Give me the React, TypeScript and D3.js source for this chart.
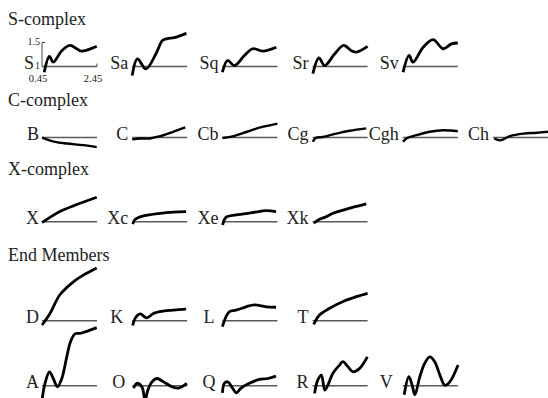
import React from "react";
import * as d3 from "d3";

// Reflectance spectra (wavelength in µm, reflectance normalised so the reference line sits at 1)
const S: [number, number][] = [[0.53, 0.88], [0.72, 1.21], [0.86, 1.09], [1.17, 1.33], [1.47, 1.44], [1.71, 1.37], [1.89, 1.32], [2.13, 1.35], [2.44, 1.42]];
const Sa: [number, number][] = [[0.45, 0.81], [0.64, 1.16], [0.95, 0.95], [1.31, 1.26], [1.55, 1.54], [1.73, 1.58], [1.98, 1.6], [2.42, 1.69]];
const Sq: [number, number][] = [[0.45, 0.88], [0.64, 1.125], [0.89, 1.02], [1.25, 1.23], [1.55, 1.37], [1.92, 1.32], [2.41, 1.4]];
const Sr: [number, number][] = [[0.46, 0.85], [0.68, 1.18], [0.89, 1.02], [1.25, 1.26], [1.58, 1.44], [1.86, 1.33], [2.04, 1.3], [2.45, 1.42]];
const Sv: [number, number][] = [[0.46, 0.88], [0.68, 1.23], [0.82, 1.09], [1.19, 1.4], [1.55, 1.56], [1.92, 1.37], [2.22, 1.47], [2.45, 1.49]];

const B: [number, number][] = [[0.45, 1.0], [0.62, 0.96], [0.92, 0.91], [1.35, 0.875], [1.95, 0.84], [2.44, 0.8]];
const C: [number, number][] = [[0.45, 0.96], [0.74, 0.98], [1.1, 0.98], [1.47, 1.03], [1.95, 1.12], [2.38, 1.21]];
const Cb: [number, number][] = [[0.45, 0.99], [0.86, 1.03], [1.35, 1.12], [1.83, 1.21], [2.45, 1.29]];
const Cg: [number, number][] = [[0.46, 0.91], [0.56, 0.99], [0.82, 1.01], [1.31, 1.08], [1.8, 1.14], [2.4, 1.19]];
const Cgh: [number, number][] = [[0.46, 0.91], [0.58, 0.98], [0.95, 1.05], [1.43, 1.12], [1.92, 1.15], [2.45, 1.13]];
const Ch: [number, number][] = [[0.5, 0.98], [0.71, 0.94], [1.07, 1.03], [1.56, 1.08], [2.05, 1.1], [2.45, 1.12]];

const X: [number, number][] = [[0.45, 0.98], [0.74, 1.09], [1.1, 1.21], [1.59, 1.33], [2.44, 1.51]];
const Xc: [number, number][] = [[0.47, 0.95], [0.56, 1.05], [0.86, 1.12], [1.47, 1.175], [1.95, 1.2], [2.41, 1.21]];
const Xe: [number, number][] = [[0.46, 0.93], [0.58, 1.09], [0.95, 1.14], [1.55, 1.19], [2.04, 1.23], [2.4, 1.21]];
const Xk: [number, number][] = [[0.49, 0.97], [0.7, 1.05], [0.89, 1.09], [1.19, 1.175], [1.68, 1.26], [2.4, 1.37]];

const D: [number, number][] = [[0.45, 0.91], [0.74, 1.15], [1.1, 1.54], [1.59, 1.81], [1.95, 1.95], [2.44, 2.1]];
const K: [number, number][] = [[0.47, 0.9], [0.56, 1.05], [0.74, 1.14], [0.98, 1.06], [1.22, 1.15], [1.58, 1.2], [1.95, 1.22], [2.41, 1.24]];
const L: [number, number][] = [[0.45, 0.875], [0.58, 1.08], [0.71, 1.19], [0.95, 1.22], [1.31, 1.29], [1.61, 1.33], [2.04, 1.29], [2.4, 1.28]];
const T: [number, number][] = [[0.49, 0.925], [0.7, 1.12], [1.07, 1.26], [1.56, 1.4], [2.04, 1.5], [2.45, 1.57]];

const A: [number, number][] = [[0.45, 0.7], [0.56, 1.05], [0.72, 1.29], [0.86, 1.15], [1.01, 0.98], [1.17, 1.15], [1.35, 1.6], [1.49, 1.92], [1.65, 2.08], [1.83, 2.09], [2.01, 2.12], [2.44, 2.21]];
const O: [number, number][] = [[0.5, 0.95], [0.62, 1.05], [0.8, 0.98], [0.92, 0.7], [1.02, 0.91], [1.17, 1.08], [1.35, 1.15], [1.59, 1.08], [1.89, 0.98], [2.13, 0.95], [2.44, 1.05]];
const Q: [number, number][] = [[0.45, 0.85], [0.52, 1.05], [0.64, 1.08], [0.82, 0.95], [0.95, 0.85], [1.13, 0.95], [1.43, 1.05], [1.79, 1.13], [2.1, 1.15], [2.4, 1.2]];
const R: [number, number][] = [[0.52, 0.84], [0.64, 1.12], [0.77, 1.22], [0.89, 0.91], [0.98, 0.98], [1.19, 1.26], [1.43, 1.43], [1.55, 1.5], [1.73, 1.4], [1.92, 1.29], [2.16, 1.36], [2.44, 1.6]];
const V: [number, number][] = [[0.5, 0.81], [0.67, 1.19], [0.79, 1.01], [0.89, 0.81], [1.07, 1.19], [1.25, 1.47], [1.43, 1.6], [1.61, 1.5], [1.8, 1.22], [1.98, 1.01], [2.16, 1.08], [2.46, 1.43]];

// Group titles and the classes shown under each
const groupTitles = ["S-complex", "C-complex", "X-complex", "End Members"];
const rowClasses = [
  ["S", "Sa", "Sq", "Sr", "Sv"],
  ["B", "C", "Cb", "Cg", "Cgh", "Ch"],
  ["X", "Xc", "Xe", "Xk"],
  ["D", "K", "L", "T"],
  ["A", "O", "Q", "R", "V"],
];
const spectra: Record<string, [number, number][]> = {
  S, Sa, Sq, Sr, Sv, B, C, Cb, Cg, Cgh, Ch, X, Xc, Xe, Xk, D, K, L, T, A, O, Q, R, V,
};
const xTicks = [0.45, 2.45];
const yTicks = [1, 1.5];

// Layout
const W = 548;
const H = 398;
const FONT = "'Liberation Serif', 'Times New Roman', serif";
const rowBase = [66.5, 137.5, 221.7, 320.7, 385.7];
const titleBase = [25, 106, 175, 261];
const titleRowIndex = [0, 1, 2, 3];
const colX0 = (c: number) => 42 + 90.2 * c;
const panelW = 55;
const labelGap: Record<string, number> = { S: 8, K: 9, L: 8, O: 7, Q: 7, V: 10, B: 3, X: 3, D: 3, A: 3 };

const x = d3.scaleLinear().domain([0.45, 2.45]).range([0, panelW]);
const y = d3.scaleLinear().domain([1, 1.5]).range([0, -24]);
const line = d3
  .line<[number, number]>()
  .x((d) => x(d[0]))
  .y((d) => y(d[1]))
  .curve(d3.curveCatmullRom.alpha(0.5));

export default function App() {
  return (
    <svg
      width={W}
      height={H}
      viewBox={`0 0 ${W} ${H}`}
      style={{ position: "absolute", left: 0, top: 0, background: "#fff" }}
      fontFamily={FONT}
    >
      <rect width={W} height={H} fill="#fff" />
      {groupTitles.map((t, i) => (
        <text key={t} x={8} y={titleBase[titleRowIndex[i]]} fontSize={18} fill="#222">
          {t}
        </text>
      ))}
      {rowClasses.map((names, r) =>
        names.map((name, c) => {
          const x0 = colX0(c);
          const base = rowBase[r];
          const gap = labelGap[name] ?? 4;
          const isAxisPanel = r === 0 && c === 0;
          return (
            <g key={name}>
              <text x={x0 - gap} y={base + 2} fontSize={18} textAnchor="end" fill="#222">
                {name}
              </text>
              <g transform={`translate(${x0},${base})`}>
                <line x1={0} x2={panelW} y1={0} y2={0} stroke="#5a5a5a" strokeWidth={1.5} />
                {isAxisPanel && (
                  <g stroke="#444" strokeWidth={1} fill="none">
                    <line x1={0} x2={0} y1={y(yTicks[0])} y2={y(yTicks[1])} />
                    <line x1={0} x2={3} y1={y(yTicks[1])} y2={y(yTicks[1])} />
                    <line x1={x(xTicks[1])} x2={x(xTicks[1])} y1={0} y2={-3} />
                  </g>
                )}
                {isAxisPanel &&
                  yTicks.map((t) => (
                    <text key={`y${t}`} x={-2} y={y(t)} fontSize={10} textAnchor="end" dominantBaseline="middle" fill="#222">
                      {t === 1 ? "1" : "1.5"}
                    </text>
                  ))}
                {isAxisPanel &&
                  xTicks.map((t) => (
                    <text key={`x${t}`} x={x(t) - 4} y={15} fontSize={10.5} textAnchor="middle" fill="#222">
                      {t.toFixed(2)}
                    </text>
                  ))}
                <path
                  d={line(spectra[name]) ?? ""}
                  fill="none"
                  stroke="#000"
                  strokeWidth={r === 1 ? 2.4 : 2.8}
                  strokeLinejoin="round"
                />
              </g>
            </g>
          );
        })
      )}
    </svg>
  );
}
